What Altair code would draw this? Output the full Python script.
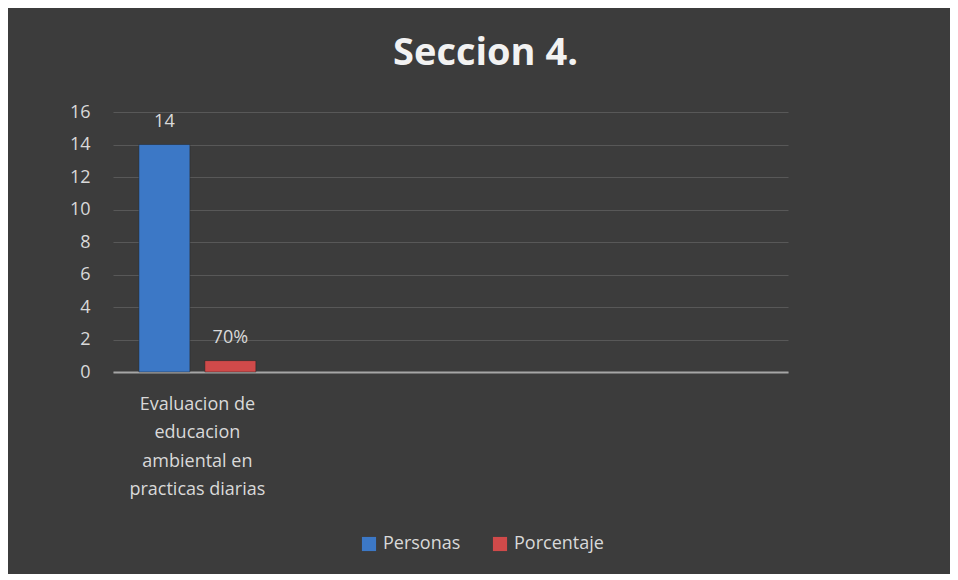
import altair as alt
import pandas as pd

TITLE = "Seccion 4."
CATEGORY = "Evaluacion de educacion ambiental en practicas diarias"
CATEGORY_LINES = ["Evaluacion de", "educacion", "ambiental en", "practicas diarias"]
BLANK_SLOTS = [" ", "  ", "   "]
SERIES = ["Personas", "Porcentaje"]
VALUES = [14, 0.7]
VALUE_LABELS = ["14", "70%"]
COLORS = ["#3c78c6", "#d04a4a"]
Y_TICKS = [0, 2, 4, 6, 8, 10, 12, 14, 16]

df = pd.DataFrame({
    "cat": [CATEGORY] * len(SERIES),
    "serie": SERIES,
    "valor": VALUES,
    "etiqueta": VALUE_LABELS,
})

FONT = "Open Sans"
TXT = "#d9d9d9"

lines_js = "[" + ",".join("'" + s + "'" for s in CATEGORY_LINES) + "]"

x_enc = alt.X(
    "cat:N",
    scale=alt.Scale(domain=[CATEGORY] + BLANK_SLOTS, paddingInner=0.307, paddingOuter=0.1535),
    axis=alt.Axis(
        title=None, labelAngle=0, ticks=False, grid=False,
        domainColor="#a6a6a6", domainWidth=2,
        labelExpr=f"datum.value == '{CATEGORY}' ? {lines_js} : ''",
        labelLineHeight=28.5, labelPadding=23, labelFontSize=18,
        labelColor=TXT, labelFont=FONT, labelBaseline="top",
    ),
)
xo_enc = alt.XOffset("serie:N", scale=alt.Scale(domain=SERIES, paddingInner=0.227, paddingOuter=0))
y_enc = alt.Y(
    "valor:Q",
    scale=alt.Scale(domain=[0, 16], nice=False),
    axis=alt.Axis(
        title=None, values=Y_TICKS, tickCount=len(Y_TICKS) + 2, ticks=False, domain=False,
        labelOverlap=False, labelFlush=False,
        gridColor="#585858", gridWidth=1,
        labelPadding=23, labelFontSize=18, labelColor=TXT, labelFont=FONT,
    ),
)

bars = alt.Chart(df).mark_bar(stroke="#222222", strokeWidth=0.8, strokeOpacity=0.6).encode(
    x=x_enc,
    xOffset=xo_enc,
    y=y_enc,
    color=alt.Color(
        "serie:N",
        scale=alt.Scale(domain=SERIES, range=COLORS),
        legend=alt.Legend(
            title=None, orient="none", direction="horizontal",
            legendX=247, legendY=423,
            symbolType="square", symbolSize=200, symbolStrokeWidth=0,
            labelFontSize=18, labelColor=TXT, labelFont=FONT,
            labelOffset=5, columnPadding=30,
        ),
    ),
)

labels = alt.Chart(df).mark_text(
    dy=-18, baseline="alphabetic", fontSize=18, color=TXT, font=FONT
).encode(
    x=x_enc,
    xOffset=xo_enc,
    y=y_enc,
    text="etiqueta:N",
)

chart = alt.layer(bars, labels).properties(
    width=675,
    height=260,
    autosize=alt.AutoSizeParams(type="none"),
    padding={"left": 105, "top": 104, "right": 162, "bottom": 202},
    background="#3c3c3c",
    title=alt.TitleParams(
        TITLE, fontSize=38, fontWeight="bold", font=FONT, color="#f2f2f2",
        anchor="middle", dx=35, offset=0, baseline="alphabetic",
    ),
).configure_view(stroke=None)

chart.save("out.html", embed_options={"renderer": "svg", "actions": False})
